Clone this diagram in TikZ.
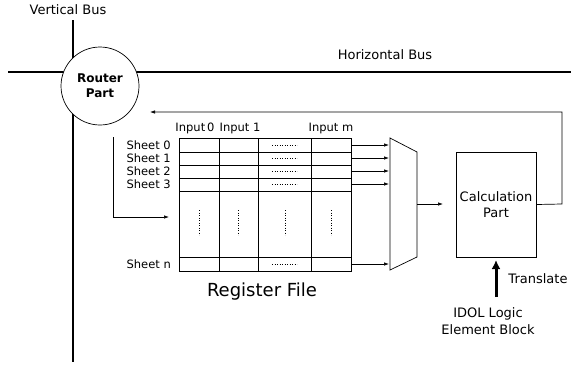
\documentclass[tikz,border=0pt]{standalone}
\usepackage{fontspec}
\setmainfont{DejaVu Sans}
\usetikzlibrary{arrows.meta}
\begin{document}
\begin{tikzpicture}[x=1pt,y=-1pt,
  lbl/.style={font=\fontsize{13}{15}\selectfont, inner sep=0pt},
  small/.style={font=\fontsize{11.5}{13}\selectfont, inner sep=0pt},
  bus/.style={line width=2.6pt},
  wire/.style={line width=0.7pt},
  arr/.style={wire, -{Latex[length=5pt,width=3.5pt]}},
  cell/.style={line width=0.7pt},
  dots/.style={dotted, line width=0.5pt}]
\useasboundingbox (0,0) rectangle (571,368);

% buses
\draw[bus] (73,20) -- (73,362);
\draw[bus] (8,72) -- (571,72);
\node[lbl] (vbl) at (68,10) {Vertical Bus};
\node[lbl] (hbl) at (385,55) {Horizontal Bus};

% router
\node[circle, draw, fill=white, line width=0.7pt, minimum size=78pt, inner sep=0pt,
      align=center, font=\fontsize{12}{15}\selectfont\bfseries] (router) at (100,86) {Router\\Part};

% register file grid
\draw[cell] (179,138) rectangle (351,271);
\foreach \y in {152,165,178,191,257} \draw[cell] (179,\y) -- (351,\y);
\foreach \x in {219,258,311} \draw[cell] (\x,138) -- (\x,271);
\foreach \y in {145,158,171,184,264} \draw[dots] (272,\y) -- (297,\y);
\foreach \x in {199,238,285,331} \draw[dots] (\x,210) -- (\x,235);

\node[small] (in0) at (195,128) {Input\,0};
\node[small] (in1) at (240,128) {Input 1};
\node[small] (inm) at (331,128) {Input m};
\foreach \y/\t in {145/0,158/1,171/2,184/3}
  \node[small, anchor=east] at (171,\y) {Sheet \t};
\node[small, anchor=east] (shn) at (171,264) {Sheet n};
\node[font=\fontsize{18}{20}\selectfont, inner sep=0pt] (rf) at (262,292) {Register File};

% input from router
\coordinate (rin) at (169,217);
\draw[arr] (113,137) |- (rin);

% multiplexer
\draw[wire] (390,138) -- (417,152) -- (417,257) -- (390,270) -- cycle;
\foreach \y in {145,158,171,184,264} \draw[arr] (351,\y) -- (389,\y);

% calculation part
\node[draw, line width=0.7pt, minimum width=80pt, minimum height=105pt, align=center,
      font=\fontsize{13}{16}\selectfont] (calc) at (496,204.5) {Calculation\\Part};
\coordinate (cin) at (443,204);
\draw[arr] (417,204) -- (cin);
\coordinate (fb) at (150,112);
\draw[arr] (calc.east) -- (562,204) |- (fb);

% logic element input
\coordinate (idolt) at (496,297);
\draw[line width=3pt, -{Latex[length=9pt,width=9pt]}] (idolt) -- (496,260);
\node[lbl] (tr) at (538,279) {Translate};
\node[lbl, align=center, font=\fontsize{13}{17}\selectfont] (idol) at (488,321) {IDOL Logic\\Element Block};
\end{tikzpicture}
\end{document}
